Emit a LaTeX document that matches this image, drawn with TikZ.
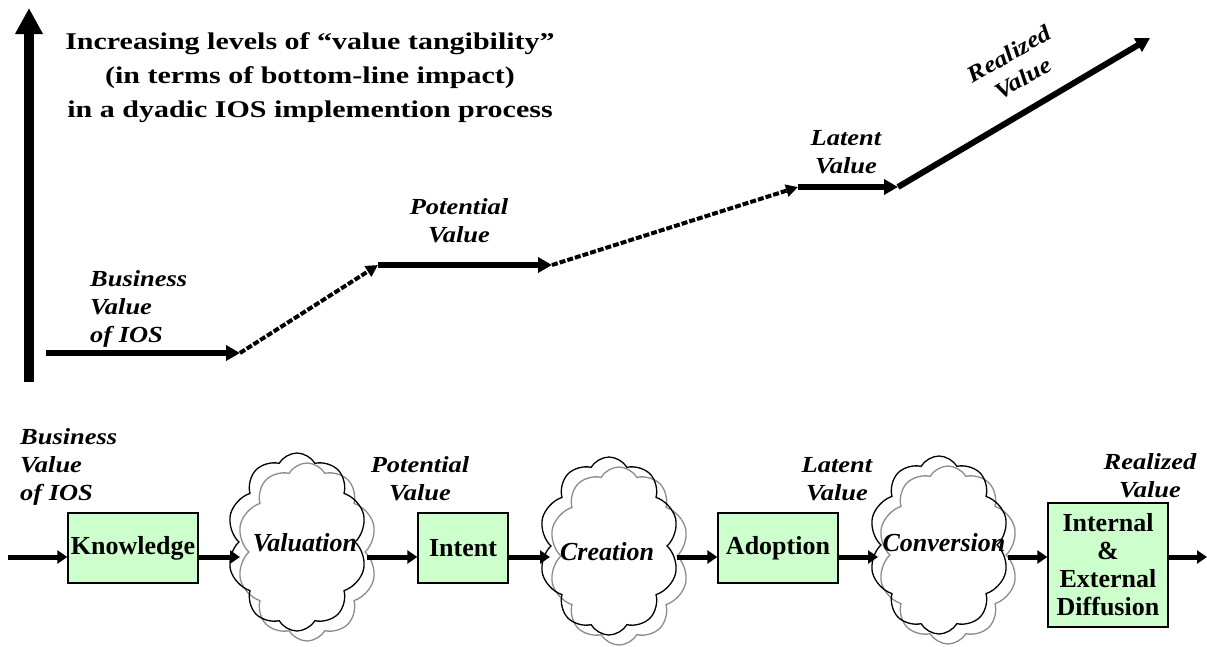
\documentclass[tikz,border=0pt]{standalone}
\usepackage{fontspec}
\setmainfont{Liberation Serif}
\newfontfamily\titlefont{Liberation Serif}[FakeStretch=1.25]
\newfontfamily\lblfont{Liberation Serif}[FakeStretch=1.15]
\usetikzlibrary{arrows.meta,shapes.symbols}
\definecolor{boxgreen}{HTML}{CCFFCC}
\definecolor{cloudgray}{HTML}{8C8C8C}
\tikzset{
  axisarrow/.style={line width=10pt,-{Triangle[length=26pt,width=26pt]}},
  steparrow/.style={line width=6pt,-{Triangle[length=14pt,width=15pt]}},
  dasharrow/.style={line width=4pt,dash pattern=on 6pt off 2pt,-{Triangle[length=12pt,width=12pt]}},
  flow/.style={line width=5pt,-{Triangle[length=10pt,width=13pt]}},
  stagebox/.style={draw=black,line width=1.3pt,fill=boxgreen,inner sep=0pt,
     font=\bfseries\fontsize{26}{28}\selectfont,align=center},
  cloudshape/.style={cloud,cloud puffs=10,cloud puff arc=120,cloud ignores aspect,
     minimum width=140pt,minimum height=178pt,inner sep=0pt,line width=1.3pt},
  cloudtext/.style={inner sep=0pt,font=\bfseries\itshape\fontsize{26}{28}\selectfont},
  lbl/.style={inner sep=0pt,font=\lblfont\bfseries\itshape\fontsize{23}{28}\selectfont},
  titletext/.style={inner sep=0pt,align=center,font=\titlefont\bfseries\fontsize{24}{34}\selectfont}
}
\begin{document}
\begin{tikzpicture}[x=1pt,y=-1pt]
\useasboundingbox[fill=white] (0,0) rectangle (1207,646);

% ---------- top chart ----------
\coordinate (a0) at (29,382);
\coordinate (a1) at (29,8);
\draw[axisarrow] (a0) -- (a1);

\node[titletext] (title) at (310,78) {Increasing levels of “value tangibility”\\(in terms of bottom-line impact)\\in a dyadic IOS implemention process};

\coordinate (t0) at (46,353);
\coordinate (t1) at (240,353);
\coordinate (t2) at (378,265);
\coordinate (t3) at (552,265);
\coordinate (t4) at (798,187);
\coordinate (t5) at (898,187);
\coordinate (t6) at (1150,38);

\draw[steparrow] (t0) -- (t1);
\draw[dasharrow] (t1) -- (t2);
\draw[steparrow] (t2) -- (t3);
\draw[dasharrow] (t3) -- (t4);
\draw[steparrow] (t4) -- (t5);
\draw[steparrow] (t5) -- (t6);

\node[lbl,align=left,anchor=west] (tbiz) at (90,309) {Business\\Value\\of IOS};
\node[lbl,align=center] (tpot) at (459,221) {Potential\\Value};
\node[lbl,align=center] (tlat) at (846,152) {Latent\\Value};
\node[lbl,align=center,rotate=30] (treal) at (1016,66) {Realized\\Value};

% ---------- bottom process ----------
\node[stagebox,minimum width=130pt,minimum height=70pt] (kn) at (133,548) {Knowledge};
\node[stagebox,minimum width=90pt,minimum height=70pt] (in) at (463,548) {Intent};
\node[stagebox,minimum width=120pt,minimum height=70pt] (ad) at (778,548) {Adoption};
\node[stagebox,minimum width=120pt,minimum height=124pt] (di) at (1108,565) {Internal\\\&\\External\\Diffusion};

\node[cloudshape,draw=cloudgray] (valG) at (307,552) {};
\node[cloudshape,draw=black] (valB) at (297,542) {};
\node[cloudtext] (valT) at (305,543) {Valuation};

\node[cloudshape,draw=cloudgray] (creG) at (619,556) {};
\node[cloudshape,draw=black] (creB) at (609,546) {};
\node[cloudtext] (creT) at (607,552) {Creation};

\node[cloudshape,draw=cloudgray] (conG) at (948,555) {};
\node[cloudshape,draw=black] (conB) at (939,545) {};
\node[cloudtext] (conT) at (944,543) {Conversion};

\coordinate (s0) at (8,557);
\coordinate (v1) at (240,557);
\coordinate (v2) at (367,557);
\coordinate (c1) at (550,557);
\coordinate (c2) at (677,557);
\coordinate (k1) at (878,557);
\coordinate (k2) at (1008,557);
\coordinate (e0) at (1207,557);

\draw[flow] (s0) -- (s0 -| kn.west);
\draw[flow] (kn.east |- s0) -- (v1);
\draw[flow] (v2) -- (v2 -| in.west);
\draw[flow] (in.east |- s0) -- (c1);
\draw[flow] (c2) -- (c2 -| ad.west);
\draw[flow] (ad.east |- s0) -- (k1);
\draw[flow] (k2) -- (k2 -| di.west);
\draw[flow] (di.east |- s0) -- (e0);

\node[lbl,align=left,anchor=west] (bbiz) at (20,467) {Business\\Value\\of IOS};
\node[lbl,align=center] (bpot) at (420,479) {Potential\\Value};
\node[lbl,align=center] (blat) at (837,479) {Latent\\Value};
\node[lbl,align=center] (breal) at (1150,476) {Realized\\Value};
\end{tikzpicture}
\end{document}
